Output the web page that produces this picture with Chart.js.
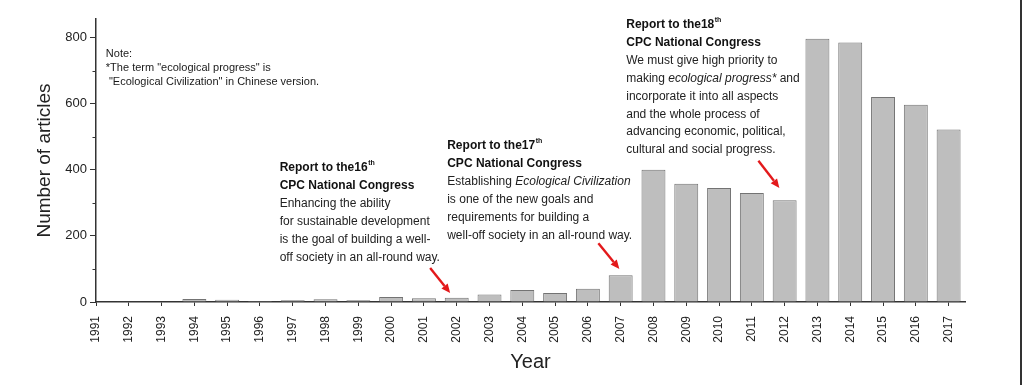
<!DOCTYPE html>
<html>
<head>
<meta charset="utf-8">
<script src="https://cdn.jsdelivr.net/npm/chart.js@4.4.0/dist/chart.umd.min.js"></script>
<style>
  html, body { margin: 0; padding: 0; background: #fff; }
  #wrap { position: relative; width: 1024px; height: 385px; }
  #edge { position: absolute; left: 1020px; top: 0; width: 2px; height: 385px; background: #333; }
</style>
</head>
<body>
<div id="wrap"><canvas id="chart" width="1024" height="385"></canvas><div id="edge"></div></div>
<script>
// --- Data ---
const years = [1991, 1992, 1993, 1994, 1995, 1996, 1997, 1998, 1999, 2000, 2001, 2002, 2003, 2004,
  2005, 2006, 2007, 2008, 2009, 2010, 2011, 2012, 2013, 2014, 2015, 2016, 2017];
const articles = [0, 2, 0, 9, 7, 3, 5, 8, 5, 15, 11, 13, 23, 36, 27, 40, 81, 400, 358, 345, 330, 308,
  796, 785, 620, 597, 522];
const yTicks = [0, 200, 400, 600, 800];

// --- Annotation text ---
const noteLines = ['Note:', '*The term "ecological progress" is', ' "Ecological Civilization" in Chinese version.'];
const report16 = [
  [['Report to the16', 'b'], ['th', 'sup']],
  [['CPC National Congress', 'b']],
  [['Enhancing the ability', 'n']],
  [['for sustainable development', 'n']],
  [['is the goal of building a well-', 'n']],
  [['off society in an all-round way.', 'n']]
];
const report17 = [
  [['Report to the17', 'b'], ['th', 'sup']],
  [['CPC National Congress', 'b']],
  [['Establishing ', 'n'], ['Ecological Civilization', 'i']],
  [['is one of the new goals and', 'n']],
  [['requirements for building a', 'n']],
  [['well-off society in an all-round way.', 'n']]
];
const report18 = [
  [['Report to the18', 'b'], ['th', 'sup']],
  [['CPC National Congress', 'b']],
  [['We must give high priority to', 'n']],
  [['making ', 'n'], ['ecological progress*', 'i'], [' and', 'n']],
  [['incorporate it into all aspects', 'n']],
  [['and the whole process of', 'n']],
  [['advancing economic, political,', 'n']],
  [['cultural and social progress.', 'n']]
];
// anchors in data units [year, articles]
const notePos = [1991.3, 750];
const blocks = [
  { at: [1996.6, 405], lines: report16 },
  { at: [2001.71, 472], lines: report17 },
  { at: [2007.17, 838], lines: report18 }
];
const arrows = [
  { from: [2001.19, 103], to: [2001.8, 27] },
  { from: [2006.32, 178], to: [2006.96, 100] },
  { from: [2011.2, 427], to: [2011.84, 345] }
];

const FONT = "'Liberation Sans', Arial, sans-serif";

const annotate = {
  id: 'annotate',
  afterDraw(chart) {
    const { ctx, scales: { x, y } } = chart;
    ctx.save();

    // minor ticks on the y axis (100, 300, ...)
    ctx.strokeStyle = '#333';
    ctx.lineWidth = 1;
    for (let v = 100; v < 856; v += 200) {
      const py = Math.round(y.getPixelForValue(v)) + 0.5;
      ctx.beginPath();
      ctx.moveTo(x.left - 3.5, py);
      ctx.lineTo(x.left, py);
      ctx.stroke();
    }

    ctx.textBaseline = 'middle';
    ctx.textAlign = 'left';

    // note
    ctx.font = '11px ' + FONT;
    ctx.fillStyle = '#1a1a1a';
    noteLines.forEach((t, i) => {
      ctx.fillText(t, x.getPixelForValue(notePos[0]), y.getPixelForValue(notePos[1]) + i * 14);
    });

    // report blocks
    const fonts = {
      b: 'bold 12px ' + FONT,
      n: '12px ' + FONT,
      i: 'italic 12px ' + FONT,
      sup: 'bold 7px ' + FONT
    };
    blocks.forEach(b => {
      const px = x.getPixelForValue(b.at[0]);
      const py = y.getPixelForValue(b.at[1]);
      b.lines.forEach((line, i) => {
        let cx = px;
        line.forEach(([txt, st]) => {
          ctx.font = fonts[st];
          ctx.fillStyle = st === 'n' || st === 'i' ? '#222' : '#111';
          const dy = st === 'sup' ? -5 : 0;
          ctx.fillText(txt, cx, py + i * 17.85 + dy);
          cx += ctx.measureText(txt).width + (st === 'b' && line.length > 1 ? 0.5 : 0);
        });
      });
    });

    // red arrows
    ctx.strokeStyle = '#e3191b';
    ctx.fillStyle = '#e3191b';
    ctx.lineWidth = 2.4;
    arrows.forEach(a => {
      const x0 = x.getPixelForValue(a.from[0]), y0 = y.getPixelForValue(a.from[1]);
      const x1 = x.getPixelForValue(a.to[0]), y1 = y.getPixelForValue(a.to[1]);
      const ang = Math.atan2(y1 - y0, x1 - x0);
      const hl = 9, hw = 4;
      const bx = x1 - hl * Math.cos(ang), by = y1 - hl * Math.sin(ang);
      ctx.beginPath();
      ctx.moveTo(x0, y0);
      ctx.lineTo(bx, by);
      ctx.stroke();
      ctx.beginPath();
      ctx.moveTo(x1, y1);
      ctx.lineTo(bx + hw * Math.sin(ang), by - hw * Math.cos(ang));
      ctx.lineTo(bx - hw * Math.sin(ang), by + hw * Math.cos(ang));
      ctx.closePath();
      ctx.fill();
    });
    ctx.restore();
  }
};

new Chart(document.getElementById('chart').getContext('2d'), {
  type: 'bar',
  data: {
    datasets: [{
      data: years.map((yr, i) => ({ x: yr, y: articles[i] })),
      backgroundColor: '#bebebe',
      borderColor: '#737373',
      borderWidth: 1,
      barPercentage: 0.73,
      categoryPercentage: 1
    }]
  },
  options: {
    responsive: false,
    animation: false,
    layout: { padding: { left: 0, right: 59, top: 19, bottom: 0 } },
    plugins: { legend: { display: false }, tooltip: { enabled: false } },
    scales: {
      x: {
        type: 'linear',
        min: 1991,
        max: 2017.5,
        offset: false,
        afterFit: s => { s.height = 83; },
        grid: { drawOnChartArea: false, offset: false, tickLength: 4, color: '#333', tickWidth: 1 },
        border: { color: '#333', width: 1.5 },
        ticks: {
          stepSize: 1,
          includeBounds: false,
          autoSkip: false,
          minRotation: 90,
          maxRotation: 90,
          padding: 10,
          color: '#222',
          font: { family: FONT, size: 12 },
          callback: v => String(v)
        },
        title: {
          display: true,
          text: 'Year',
          color: '#222',
          font: { family: FONT, size: 20 },
          padding: { top: 0, bottom: 11 }
        }
      },
      y: {
        min: 0,
        max: 856,
        afterFit: s => { s.width = 96; },
        grid: {
          drawOnChartArea: false,
          tickLength: 6,
          color: '#333',
          tickColor: c => (yTicks.includes(c.tick.value) ? '#333' : 'rgba(0,0,0,0)'),
          tickWidth: 1
        },
        border: { color: '#333', width: 1.5 },
        ticks: {
          stepSize: 100,
          includeBounds: false,
          padding: 3,
          color: '#222',
          font: { family: FONT, size: 13 },
          callback: v => (yTicks.includes(v) ? String(v) : '')
        },
        title: {
          display: true,
          text: 'Number of articles',
          color: '#222',
          font: { family: FONT, size: 19 },
          padding: { top: 33.6, bottom: 0 }
        }
      }
    }
  },
  plugins: [annotate]
});
</script>
</body>
</html>
